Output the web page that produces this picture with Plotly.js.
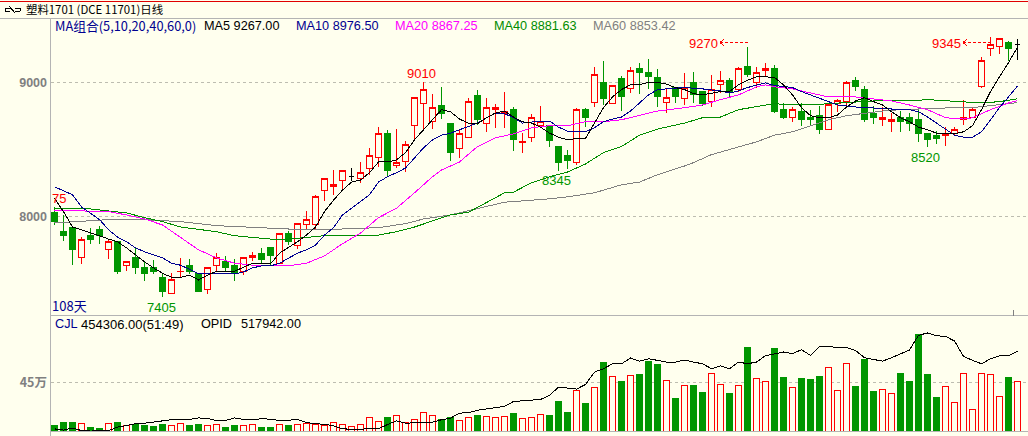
<!DOCTYPE html>
<html><head><meta charset="utf-8">
<script src="https://cdn.plot.ly/plotly-3.0.1.min.js"></script>
<style>html,body{margin:0;padding:0;background:#FFFFEE}#c{width:1028px;height:436px}
#c svg path{shape-rendering:crispEdges}</style>
</head><body><div id="c"></div>
<script>
const open_ = [8035,7890,7920,7700,7865,7910,7760,7815,7635,7695,7620,7620,7550,7430,7590,7640,7575,7460,7635,7665,7640,7590,7695,7730,7770,7655,7880,7790,7940,7940,8195,8225,8275,8305,8290,8365,8440,8625,8380,8410,8685,8845,8710,8830,8695,8510,8595,8905,8700,8800,8770,8800,8555,8595,8680,8685,8525,8455,8405,8800,8850,9005,8845,9030,8955,9105,9075,9040,8850,8965,8880,9000,8935,8860,8985,9020,8950,9120,9005,9090,9105,8800,8745,8790,8745,8760,8655,8845,8860,9020,8950,8770,8725,8710,8740,8745,8730,8625,8610,8610,8625,8730,8740,8970,9260,9270,9300,9285];
const high_ = [8075,8015,7920,7850,7920,7935,7835,7815,7670,7770,7665,7680,7575,7580,7695,7685,7580,7620,7730,7710,7685,7700,7740,7770,7775,7875,7895,7950,8045,8165,8290,8350,8350,8365,8410,8515,8670,8650,8655,8570,8890,9010,8920,8970,8695,8650,8890,8950,8890,8845,8935,8820,8625,8770,8830,8685,8530,8500,8815,8815,9120,9165,8980,9050,9120,9150,9180,9105,8965,8970,9075,9080,8935,9060,9090,9040,9120,9270,9120,9150,9135,8850,8820,8850,8800,8830,8850,8880,9015,9045,8980,8830,8820,8775,8790,8775,8800,8625,8640,8670,8670,8875,8815,9195,9345,9335,9315,9330];
const low_ = [7940,7820,7640,7650,7800,7800,7685,7575,7595,7575,7520,7575,7405,7425,7545,7575,7440,7425,7595,7590,7520,7565,7670,7650,7640,7650,7790,7760,7910,7910,8120,8165,8200,8270,8255,8315,8375,8305,8365,8335,8585,8640,8655,8730,8420,8440,8595,8685,8635,8665,8665,8495,8480,8560,8665,8525,8345,8360,8390,8670,8820,8835,8845,8790,8925,8920,8955,8820,8775,8850,8835,8850,8830,8820,8925,8890,8935,9045,8965,9045,8775,8730,8710,8680,8680,8620,8655,8785,8835,8940,8710,8695,8680,8635,8635,8640,8560,8520,8545,8530,8610,8685,8740,8965,9200,9215,9165,9170];
const close_ = [7965,7865,7760,7830,7835,7865,7815,7595,7665,7620,7580,7595,7445,7530,7595,7590,7445,7620,7700,7620,7575,7695,7710,7680,7715,7875,7820,7950,7980,8150,8285,8245,8345,8305,8335,8455,8625,8350,8405,8540,8890,8950,8820,8775,8480,8625,8860,8730,8820,8815,8790,8575,8560,8745,8715,8570,8405,8420,8805,8740,9060,8880,8980,8895,9090,9075,9050,8895,8890,8895,8965,8910,8845,8950,9015,8925,9105,9060,9080,9105,8790,8745,8800,8725,8725,8650,8835,8865,9005,8970,8730,8740,8740,8730,8710,8695,8620,8575,8585,8625,8650,8740,8800,9170,9285,9330,9260,9285];
const volumeWan = [5.5,8.3,8.3,7.3,3.7,2.8,7.3,8.3,5.5,6.4,5.5,4.6,6.4,5.5,7.3,5.5,6.4,5.5,6.4,3.7,5.5,5.5,6.4,3.7,3.7,6.4,5.5,6.4,7.3,6.4,5.5,8.3,6.4,4.6,6.4,12.9,9.2,12.9,14.7,8.3,11,17.4,14.7,11,12.9,10.1,12.9,14.7,13.8,12.9,13.8,16.5,11.9,12.9,15.6,14.7,27.5,17.4,37.6,25.7,40.4,63.3,50.5,45.9,51.4,52.3,64.3,61.5,46.8,30.3,42.2,42.2,35.8,53.2,43.1,34.9,42.2,77.1,48.7,45.9,76.2,49.6,40.4,48.7,47.7,50.5,58.8,37.6,62.4,41.3,66.1,36.7,38.6,34.9,53.2,45.9,89,52.3,31.2,41.3,26.6,53.2,20.2,53.2,52.3,32.1,49.6,45.4];
const opidWan = [1.7,0.9,2.2,0.6,0.3,0.3,0.6,2.8,3.9,5.0,5.4,6.0,6.9,7.6,7.6,7.8,8.8,8.4,7.1,7.1,8.8,7.8,7.8,8.2,8.0,7.1,7.3,7.8,5.8,5.0,4.7,3.7,1.7,1.7,1.3,2.2,1.7,4.5,6.9,5.4,5.6,6.0,6.0,7.6,8.6,11.9,12.1,13.8,14.5,15.1,16.2,19.4,19.9,20.3,20.7,23.3,28.7,28.1,27.4,30.4,38.4,40.6,43.8,43.8,47.5,45.5,47.0,46.0,44.9,44.9,46.2,44.9,43.8,40.6,42.5,40.6,44.9,43.8,44.9,49.0,50.3,51.4,50.3,52.9,49.2,55.0,55.0,54.2,54.2,52.4,47.7,46.4,45.5,47.7,50.3,52.7,62.2,63.7,61.9,61.5,58.5,48.6,46.0,43.8,47.0,49.0,49.0,51.8];
const ma5 = [8140,8040,7925,7905,7880,7860,7835,7815,7770,7715,7665,7620,7580,7550,7550,7565,7530,7565,7595,7595,7595,7625,7655,7655,7650,7730,7770,7815,7865,7925,8040,8125,8200,8260,8275,8330,8410,8410,8425,8480,8575,8650,8725,8800,8785,8730,8700,8695,8740,8775,8790,8745,8710,8700,8670,8625,8595,8575,8585,8585,8700,8815,8895,8950,8985,8985,9005,9005,8990,8965,8950,8920,8910,8925,8935,8935,8985,9020,9045,9045,9040,8985,8910,8815,8755,8740,8740,8760,8820,8865,8890,8860,8835,8785,8740,8710,8670,8650,8625,8620,8620,8635,8680,8800,8935,9045,9150,9267];
const ma10Idx = [0,2,3,4,5,6,7,8,9,10,11,12,13,14,15,16,17,20,21,22,23,24,25,26,27,28,29,30,31,32,33,34,35,36,37,38,39,40,41,42,43,44,45,46,47,48,49,50,51,52,53,54,55,56,57,58,59,60,61,62,63,64,65,66,67,68,69,70,72,74,75,76,77,78,79,80,82,83,84,86,87,89,90,92,93,95,96,97,98,99,100,101,102,103,104,105,106,107];
const ma10 = [8225,8165,8075,8030,7980,7905,7850,7815,7770,7740,7715,7695,7655,7640,7610,7575,7575,7575,7590,7620,7635,7635,7655,7695,7730,7755,7790,7865,7920,8015,8065,8110,8165,8260,8300,8330,8365,8440,8515,8575,8610,8625,8650,8670,8700,8740,8775,8770,8740,8700,8710,8715,8715,8670,8640,8635,8635,8665,8710,8730,8745,8790,8850,8910,8950,8955,8965,8965,8955,8940,8925,8940,8965,8985,9000,8980,8965,8935,8910,8860,8835,8820,8815,8805,8805,8800,8785,8745,8700,8650,8610,8595,8595,8635,8725,8815,8895,8977];
const ma20Idx = [0,2,4,6,8,10,12,14,16,18,20,22,24,26,28,30,32,34,36,38,40,42,43,45,47,49,51,53,55,57,59,61,63,65,67,70,72,74,76,78,79,80,82,84,86,89,91,93,95,97,99,101,102,104,106,107];
const ma20 = [8050,8045,8040,8040,8015,7985,7940,7850,7755,7695,7655,7640,7635,7635,7655,7710,7800,7880,7995,8065,8180,8300,8350,8410,8525,8590,8620,8665,8680,8680,8710,8710,8725,8760,8790,8815,8835,8875,8910,8970,8985,8970,8955,8925,8895,8895,8880,8865,8835,8800,8740,8730,8740,8800,8850,8867];
const ma40Idx = [0,4,6,8,10,12,14,16,18,20,24,26,28,30,32,36,38,40,42,44,46,48,50,51,53,55,57,59,61,63,65,67,70,72,74,76,78,80,82,84,86,89,91,93,95,97,99,101,103,105,107];
const ma40 = [8060,8060,8045,8030,7995,7965,7925,7905,7890,7860,7835,7835,7845,7860,7860,7865,7890,7925,7970,8015,8035,8110,8180,8185,8255,8300,8335,8395,8480,8525,8610,8655,8700,8740,8745,8800,8820,8845,8835,8835,8845,8860,8865,8865,8865,8875,8865,8860,8850,8860,8881];
const ma60Idx = [0,2,6,10,14,18,22,26,32,36,39,41,44,47,50,55,57,60,63,65,67,70,71,73,76,78,80,82,84,86,88,90,92,94,96,98,100,102,104,106,107];
const ma60 = [7955,7965,7980,7980,7965,7935,7920,7910,7910,7920,7950,7985,8015,8065,8110,8135,8150,8180,8240,8260,8315,8380,8405,8465,8525,8560,8610,8635,8680,8725,8755,8775,8790,8800,8805,8815,8815,8815,8830,8850,8853];
const yTicks = [8000, 9000];
const volTicks = [45];
const volTickText = ['45万'];

const BG='#FFFFEE', RED='#FF0000', GREEN='#009600', NAVY='#000090', MAG='#FF00FF', GRAY='#808080', G40='#008C00', AXIS='#B4B4B4';
const F='"Liberation Sans", Arial, sans-serif';
const idx = open_.map((_,i)=>i);
const normal = idx.filter(i=>open_[i]!==close_[i]);
const doji = idx.filter(i=>open_[i]===close_[i]);
const pick=(a,ids)=>ids.map(i=>a[i]);
const PX=x=>x/1028, PY=y=>1-y/436;

function candle(ids,up,dn,fill){return {type:'candlestick',x:ids,open:pick(open_,ids),high:pick(high_,ids),low:pick(low_,ids),close:pick(close_,ids),
  xaxis:'x',yaxis:'y',whiskerwidth:0,line:{width:1},
  increasing:{line:{color:up,width:1},fillcolor:fill},
  decreasing:{line:{color:dn,width:1},fillcolor:dn},hoverinfo:'skip',showlegend:false};}
function line(x,y,c,ya){return {type:'scatter',mode:'lines',x:x,y:y,yaxis:ya,xaxis:'x',line:{color:c,width:1},hoverinfo:'skip',showlegend:false};}

const traces=[
  line(ma60Idx,ma60,GRAY,'y'),
  line(ma40Idx,ma40,G40,'y'),
  candle(normal,RED,GREEN,BG),
  candle(doji,'#000000','#000000','#000000'),
  line(ma20Idx,ma20,MAG,'y'),
  line(ma10Idx,ma10,NAVY,'y'),
  line(idx,ma5,'#000000','y'),
  {type:'bar',x:idx,y:volumeWan,xaxis:'x',yaxis:'y2',width:0.72,hoverinfo:'skip',showlegend:false,
   marker:{color:idx.map(i=>close_[i]>=open_[i]?BG:GREEN),line:{color:idx.map(i=>close_[i]>=open_[i]?RED:GREEN),width:1}}},
  line(idx,opidWan,'#000000','y3')
];

function t(x,y,s,c,o){const sz=(o&&o.size)||12.7; const fam=(o&&o.family)||F;
  return {xref:'paper',yref:'paper',x:PX(x),y:PY(y),text:s,showarrow:false,xanchor:'left',yanchor:'middle',
  font:{family:fam,size:sz,color:c},borderpad:0};}
const CJK='"Noto Sans CJK SC",'+F;
const anns=[
  t(25,9,'塑料1701 (DCE 11701)日线','#000000',{family:CJK,size:11.4}),
  t(54,26,'MA组合(5,10,20,40,60,0)',NAVY,{family:CJK,size:12.8}),
  t(203,26,'MA5 9267.00','#000000'),
  t(295,26,'MA10 8976.50',NAVY),
  t(394,26,'MA20 8867.25',MAG),
  t(493,26,'MA40 8881.63',G40),
  t(592,26,'MA60 8853.42',GRAY),
  t(54,324,'CJL',NAVY),
  t(80,324,'454306.00(51:49)','#000000',{size:13}),
  t(200,324,'OPID','#000000'),
  t(240,324,'517942.00','#000000'),
  t(51,198,'75',RED,{size:13}),
  t(51,305,'108天',NAVY,{family:CJK,size:13}),
  t(146,307,'7405',GREEN,{size:13}),
  t(406,74,'9010',RED,{size:13}),
  t(541,180,'8345',GREEN,{size:13}),
  t(688,43,'9270',RED,{size:13}),
  t(931,43,'9345',RED,{size:13}),
  t(910,157,'8520',GREEN,{size:13})
];
function seg(x0,y0,x1,y1,c,dash){return {type:'line',xref:'paper',yref:'paper',x0:PX(x0),y0:PY(y0),x1:PX(x1),y1:PY(y1),line:{color:c,width:1,dash:dash||'solid'},layer:'above'};}
const shapes=[
  seg(0,1.5,1028,1.5,'#E00000'),
  seg(0,18.5,1028,18.5,AXIS),
  seg(50.5,18,50.5,436,AXIS),
  seg(51,315.5,1028,315.5,AXIS),
  seg(51,431.5,1028,431.5,AXIS),
  seg(1013.5,310,1013.5,316,'#808080'),
  seg(720,42.5,748,42.5,RED,'3px,2px'),
  seg(720,42.5,724,39.5,RED),
  seg(720,42.5,724,45.5,RED),
  seg(963,42.5,990,42.5,RED,'3px,2px'),
  seg(963,42.5,967,39.5,RED),
  seg(963,42.5,967,45.5,RED),
  seg(5,8,10,8,'#000'),seg(5,11,10,11,'#000'),seg(5,8,5,11,'#000'),
  seg(9,6,15,13,'#000'),
  seg(15,8,20,8,'#000'),seg(15,11,20,11,'#000'),seg(20,8,20,11,'#000')
];
const yaxCommon={showline:false,zeroline:false,showgrid:true,gridcolor:'#BDBDB0',griddash:'3px,3px',gridwidth:1,ticks:'',side:'left',
  tickfont:{family:F,size:12.5,color:GRAY,weight:'bold'},ticklabelstandoff:3};
const layout={width:1028,height:436,margin:{l:0,r:0,t:0,b:0,pad:0},paper_bgcolor:BG,plot_bgcolor:BG,showlegend:false,hovermode:false,
  boxgap:0.12,bargap:0,
  xaxis:{domain:[PX(51),1],range:[-0.389,108.167],anchor:'y2',showticklabels:false,showgrid:false,zeroline:false,showline:false,ticks:'',rangeslider:{visible:false},fixedrange:true},
  yaxis:Object.assign({},yaxCommon,{domain:[PY(315.5),PY(18.5)],range:[7265,9480],tickmode:'array',tickvals:yTicks,ticktext:yTicks.map(String),fixedrange:true}),
  yaxis2:Object.assign({},yaxCommon,{domain:[PY(431.5),PY(315.5)],range:[0,106],tickmode:'array',tickvals:volTicks,ticktext:volTickText,
    tickfont:{family:CJK,size:12.5,color:GRAY,weight:'bold'},fixedrange:true}),
  yaxis3:{domain:[PY(431.5),PY(315.5)],overlaying:'y2',range:[0,75],showgrid:false,showticklabels:false,zeroline:false,showline:false,ticks:'',side:'right',fixedrange:true},
  annotations:anns,shapes:shapes};
Plotly.newPlot('c',traces,layout,{displayModeBar:false,staticPlot:true});
</script></body></html>
